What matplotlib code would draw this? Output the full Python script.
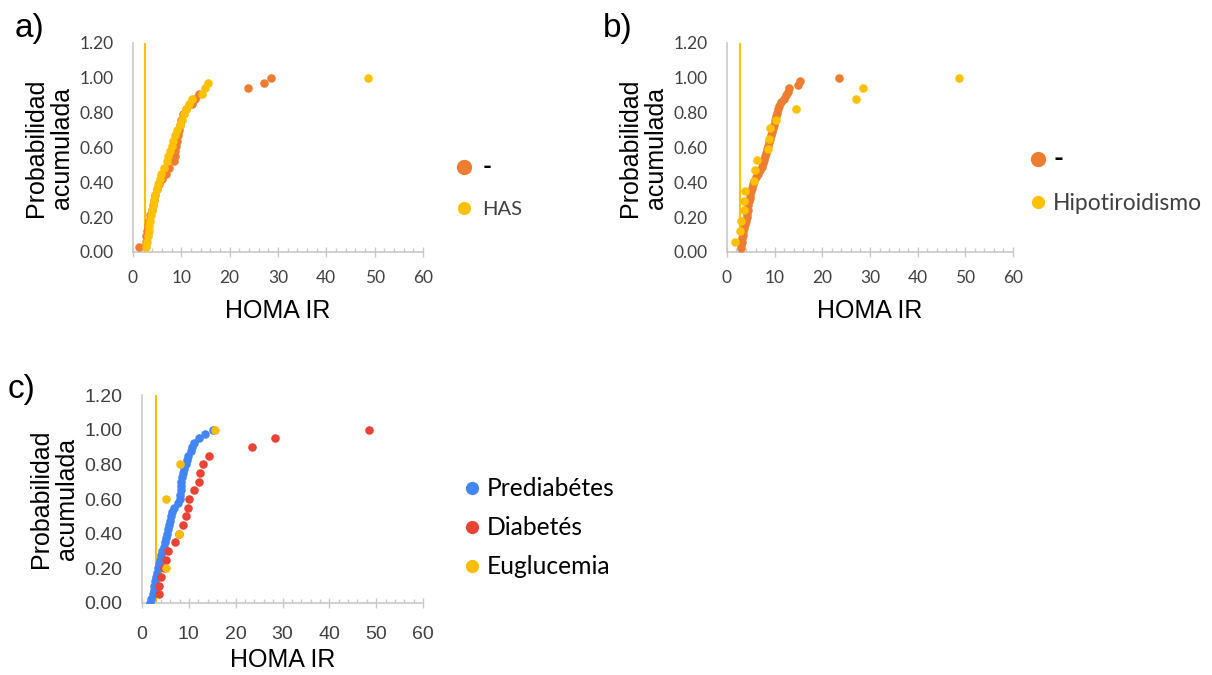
import matplotlib
matplotlib.use("Agg")
import matplotlib.pyplot as plt
from matplotlib.lines import Line2D
from matplotlib.ticker import MultipleLocator

# ---- a) sin comorbilidad (-) vs HAS ----
a_sin_x = [1.3, 2.6, 2.8, 3.0, 3.2, 3.4, 3.6, 3.9, 4.2, 4.4, 4.6, 5.0, 5.4, 6.0, 6.8, 7.5,
           8.4, 8.6, 8.8, 9.0, 9.2, 9.4, 9.6, 9.8, 10.0, 10.4, 10.9, 12.3, 12.8, 13.6,
           23.7, 27.1, 28.6]
a_sin_y = [0.03, 0.06, 0.09, 0.12, 0.15, 0.18, 0.21, 0.24, 0.27, 0.30, 0.33, 0.36, 0.39,
           0.42, 0.45, 0.48, 0.52, 0.55, 0.58, 0.61, 0.64, 0.67, 0.70, 0.73, 0.76, 0.79,
           0.82, 0.85, 0.88, 0.91, 0.94, 0.97, 1.00]
a_has_x = [2.6, 3.0, 3.2, 3.3, 3.4, 3.6, 3.8, 4.0, 4.2, 4.4, 4.6, 4.9, 5.2, 5.6, 5.9, 6.5,
           7.0, 7.3, 7.7, 8.0, 8.3, 8.6, 9.2, 9.8, 10.2, 10.6, 11.0, 11.6, 12.3, 14.3,
           14.9, 15.6, 48.6]
a_has_y = [0.03, 0.06, 0.09, 0.12, 0.15, 0.18, 0.21, 0.24, 0.27, 0.30, 0.33, 0.36, 0.39,
           0.42, 0.45, 0.48, 0.52, 0.55, 0.58, 0.61, 0.64, 0.67, 0.70, 0.73, 0.76, 0.79,
           0.82, 0.85, 0.88, 0.91, 0.94, 0.97, 1.00]

# ---- b) sin comorbilidad (-) vs hipotiroidismo ----
b_sin_x = [2.9, 3.0, 3.1, 3.2, 3.3, 3.4, 3.6, 3.8, 4.0, 4.1, 4.2, 4.4, 4.5, 4.7, 4.8, 4.9,
           5.1, 5.2, 5.4, 5.6, 6.0, 6.5, 6.9, 7.3, 7.6, 7.8, 8.0, 8.2, 8.4, 8.6, 8.8, 9.0,
           9.2, 9.4, 9.6, 9.8, 10.0, 10.2, 10.5, 10.8, 11.0, 11.3, 12.0, 12.4, 12.7, 13.0,
           15.0, 15.3, 23.6]
b_sin_y = [0.02, 0.04, 0.06, 0.08, 0.10, 0.12, 0.14, 0.16, 0.18, 0.20, 0.22, 0.24, 0.27,
           0.29, 0.31, 0.33, 0.35, 0.37, 0.39, 0.41, 0.43, 0.45, 0.47, 0.49, 0.51, 0.53,
           0.55, 0.57, 0.59, 0.61, 0.63, 0.65, 0.67, 0.69, 0.71, 0.73, 0.76, 0.78, 0.80,
           0.82, 0.84, 0.86, 0.88, 0.90, 0.92, 0.94, 0.96, 0.98, 1.00]
b_hipo_x = [1.7, 2.7, 2.9, 3.5, 3.5, 3.8, 5.7, 5.9, 6.4, 8.7, 8.8, 9.0, 10.2, 14.5,
            27.1, 28.5, 48.6]
b_hipo_y = [0.06, 0.12, 0.18, 0.24, 0.29, 0.35, 0.41, 0.47, 0.53, 0.59, 0.65, 0.71, 0.76,
            0.82, 0.88, 0.94, 1.00]

# ---- c) estado glucemico ----
c_pre_x = [1.6, 2.0, 2.3, 2.5, 2.6, 2.8, 3.0, 3.2, 3.4, 3.7, 3.9, 4.1, 4.3, 4.6, 4.8, 5.1,
           5.35, 5.6, 5.8, 6.0, 6.1, 6.3, 6.8, 7.6, 8.0, 8.2, 8.3, 8.3, 8.4, 8.5, 8.7, 9.0,
           9.4, 9.6, 9.9, 10.4, 10.7, 11.0, 12.2, 13.4, 15.1]
c_pre_y = [0.000, 0.025, 0.050, 0.075, 0.100, 0.125, 0.150, 0.175, 0.200, 0.225, 0.250,
           0.275, 0.300, 0.325, 0.350, 0.375, 0.400, 0.425, 0.450, 0.475, 0.500, 0.525,
           0.550, 0.575, 0.600, 0.625, 0.650, 0.675, 0.700, 0.725, 0.750, 0.775, 0.800,
           0.825, 0.850, 0.875, 0.900, 0.925, 0.950, 0.975, 1.000]
c_dia_x = [3.65, 3.65, 4.15, 4.7, 5.07, 5.57, 7.14, 7.92, 8.7, 9.3, 9.8, 10.07, 11.1, 12.1,
           12.4, 13.0, 14.35, 23.5, 28.5, 48.5]
c_dia_y = [0.05, 0.10, 0.15, 0.20, 0.25, 0.30, 0.35, 0.40, 0.45, 0.50, 0.55, 0.60, 0.65,
           0.70, 0.75, 0.80, 0.85, 0.90, 0.95, 1.00]
c_eug_x = [5.1, 7.9, 5.1, 8.0, 15.5]
c_eug_y = [0.2, 0.4, 0.6, 0.8, 1.0]

corte = [2.5, 2.7, 2.9]   # linea vertical de corte en cada panel
yticks = [0.0, 0.2, 0.4, 0.6, 0.8, 1.0, 1.2]

naranja = '#ED7D31'
amarillo = '#FFC000'
azul = '#4285F4'
rojo = '#EA4335'
amarillo2 = '#FBBC04'
gris = '#c8c8c8'

ARIAL = 'Liberation Sans'
CALIBRI = 'Lato'

fig = plt.figure(figsize=(12.12, 6.75), dpi=100)


def estilo(ax, fuente, tam, xpad, lpad):
    ax.set_xlim(0, 60)
    ax.set_ylim(0, 1.2)
    for s in ['top', 'right']:
        ax.spines[s].set_visible(False)
    for s in ['left', 'bottom']:
        ax.spines[s].set_color(gris)
        ax.spines[s].set_linewidth(1.2)
    ax.xaxis.set_major_locator(MultipleLocator(10))
    ax.xaxis.set_minor_locator(MultipleLocator(2))
    ax.set_yticks(yticks)
    ax.set_yticklabels(['%.2f' % v for v in yticks])
    ax.tick_params(axis='x', which='major', direction='inout', length=6.5, width=1,
                   color=gris, pad=xpad)
    ax.tick_params(axis='x', which='minor', direction='in', length=3, width=1, color=gris)
    ax.tick_params(axis='y', length=0, pad=14)
    for t in ax.get_xticklabels() + ax.get_yticklabels():
        t.set_fontfamily(fuente)
        t.set_fontsize(tam)
        t.set_color('#404040')
    ax.set_xlabel('HOMA IR', fontsize=18, family=ARIAL, labelpad=lpad)
    ax.set_ylabel('Probabilidad\nacumulada', fontsize=18, family=ARIAL,
                  linespacing=1.1, labelpad=4)


def leyenda(ax, items, tam, sep, anchor, color_txt, tpad):
    hs = [Line2D([], [], marker='o', ls='', color=c, markersize=m) for c, m, _ in items]
    lg = ax.legend(hs, [t for _, _, t in items], loc='center left', bbox_to_anchor=anchor,
                   frameon=False, prop={'family': CALIBRI, 'size': tam},
                   labelspacing=sep, handletextpad=tpad, handlelength=1.0)
    for t in lg.get_texts():
        t.set_color(color_txt)
        if t.get_text() == '-':
            t.set_color('black')
            t.set_fontweight('bold')
            t.set_fontsize(tam + 3)
    return lg


# panel a
ax1 = fig.add_axes([0.1097, 0.6267, 0.2393, 0.3096])
estilo(ax1, CALIBRI, 12.5, 10, 9)
ax1.axvline(corte[0], color=amarillo, lw=1.5)
ax1.scatter(a_sin_x, a_sin_y, s=38, color=naranja, zorder=3, lw=0)
ax1.scatter(a_has_x, a_has_y, s=38, color=amarillo, zorder=3, lw=0)
leyenda(ax1, [(naranja, 10, '-'), (amarillo, 8.5, 'HAS')], 14.5, 1.1, (1.045, 0.313),
        '#404040', 0.4)

# panel b
ax2 = fig.add_axes([0.5998, 0.6267, 0.2360, 0.3096])
estilo(ax2, CALIBRI, 12.5, 10, 9)
ax2.axvline(corte[1], color=amarillo, lw=1.5)
ax2.scatter(b_sin_x, b_sin_y, s=38, color=naranja, zorder=3, lw=0)
ax2.scatter(b_hipo_x, b_hipo_y, s=38, color=amarillo, zorder=3, lw=0)
leyenda(ax2, [(naranja, 10, '-'), (amarillo, 8.5, 'Hipotiroidismo')], 16.5, 0.95,
        (0.976, 0.343), '#404040', 0.15)

# panel c
ax3 = fig.add_axes([0.1172, 0.1067, 0.2318, 0.3080])
estilo(ax3, ARIAL, 14, 13, 4)
ax3.axvline(corte[2], color=amarillo2, lw=1.5)
ax3.scatter(c_pre_x, c_pre_y, s=38, color=azul, zorder=3, lw=0)
ax3.scatter(c_dia_x, c_dia_y, s=38, color=rojo, zorder=3, lw=0)
ax3.scatter(c_eug_x, c_eug_y, s=38, color=amarillo2, zorder=3, lw=0)
leyenda(ax3, [(azul, 8.5, 'Prediabétes'), (rojo, 8.5, 'Diabetés'),
              (amarillo2, 8.5, 'Euglucemia')], 17.7, 0.65, (1.052, 0.362), 'black', 0.1)

fig.text(15 / 1212, 1 - 37 / 675, 'a)', fontsize=24, family=ARIAL, va='baseline')
fig.text(603 / 1212, 1 - 37 / 675, 'b)', fontsize=24, family=ARIAL, va='baseline')
fig.text(8 / 1212, 1 - 398 / 675, 'c)', fontsize=24, family=ARIAL, va='baseline')

fig.savefig('out.png', dpi=100)
